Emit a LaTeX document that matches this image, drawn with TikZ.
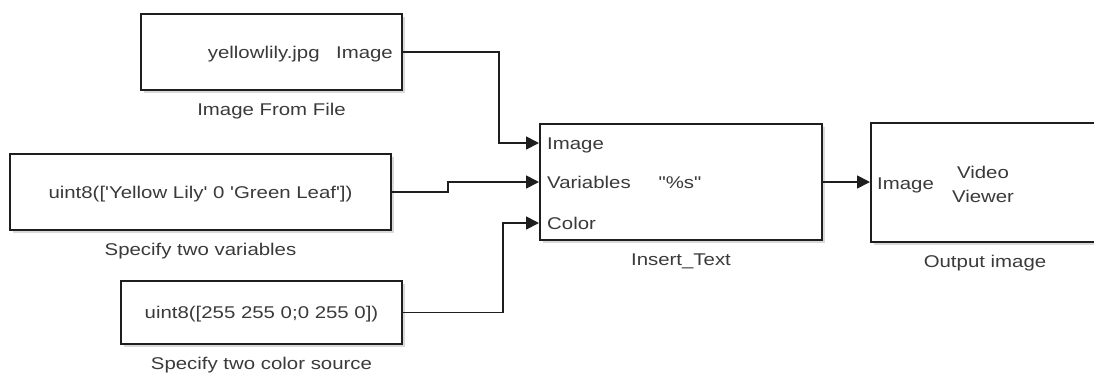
\documentclass[tikz,border=0pt]{standalone}
\usepackage{fontspec}
\setmainfont{Liberation Sans}[FakeStretch=1.2, Ligatures=TeXOff]
\usetikzlibrary{arrows.meta, positioning, shadows, calc}
\definecolor{txtgray}{HTML}{3A3A3A}
\definecolor{linegray}{HTML}{1E1E1E}
\tikzset{
  blk/.style={rectangle, draw=linegray, line width=2pt, fill=white,
              drop shadow={shadow xshift=2.5pt, shadow yshift=-3pt,
                           fill=black, opacity=0.15},
              inner sep=0pt},
  port/.style={inner sep=0pt, text height=12pt, text depth=0pt,
               text=txtgray, font=\fontsize{17}{24}\selectfont},
  caption/.style={port},
  vtext/.style={inner sep=0pt, align=center, text=txtgray,
                font=\fontsize{17}{24}\selectfont},
  conn/.style={-{Triangle[length=13pt, width=13pt]}, line width=1.7pt,
               draw=linegray},
}

\begin{document}
\begin{tikzpicture}[x=1pt, y=-1pt, node distance=12pt]
  \useasboundingbox (0,0) rectangle (1094,373);

  % image source
  \node[blk, minimum width=261pt, minimum height=76pt] (file) at (271.5,52) {};
  \node[port, anchor=east] (fileimg) at ([xshift=-10pt]file.east) {Image};
  \node[port, left=16pt of fileimg] (filename) {yellowlily.jpg};
  \node[caption, below=of file] (filecap) {Image From File};

  % variables
  \node[blk, minimum width=381pt, minimum height=76pt] (vars) at (200.5,192) {};
  \node[port] (varstxt) at (vars) {uint8(['Yellow Lily' 0 'Green Leaf'])};
  \node[caption, below=of vars] (varscap) {Specify two variables};

  % colours
  \node[blk, minimum width=281pt, minimum height=63pt] (colsrc) at (261.5,312.5) {};
  \node[port] (colsrctxt) at (colsrc) {uint8([255 255 0;0 255 0])};
  \node[caption, below=of colsrc] (colsrccap) {Specify two color source};

  % text inserter
  \node[blk, minimum width=282pt, minimum height=116pt] (ins) at (681,182) {};
  \node[port, anchor=west] (insimg) at (547,143) {Image};
  \node[port, anchor=west] (insvar) at (547,182) {Variables};
  \node[port, anchor=west] (inscol) at (547,223) {Color};
  \node[port] (insfmt) at (680,182) {"\%s"};
  \node[caption, below=of ins] (inscap) {Insert\_Text};

  % viewer
  \node[blk, minimum width=228pt, minimum height=119pt] (view) at (985,182.5) {};
  \node[port, anchor=west] (viewimg) at (877,183) {Image};
  \node[vtext] (viewname) at (983,184) {Video\\Viewer};
  \node[caption, below=of view] (viewcap) {Output image};

  % signal lines
  \draw[conn] (file.east) -- ++(96,0) |- (insimg -| ins.west);
  \draw[conn] (vars.east) -- ++(56,0) |- (insvar -| ins.west);
  \draw[conn] (colsrc.east) -- ++(100,0) |- (inscol -| ins.west);
  \draw[conn] (ins.east) -- (view.west |- ins.east);

\end{tikzpicture}
\end{document}
